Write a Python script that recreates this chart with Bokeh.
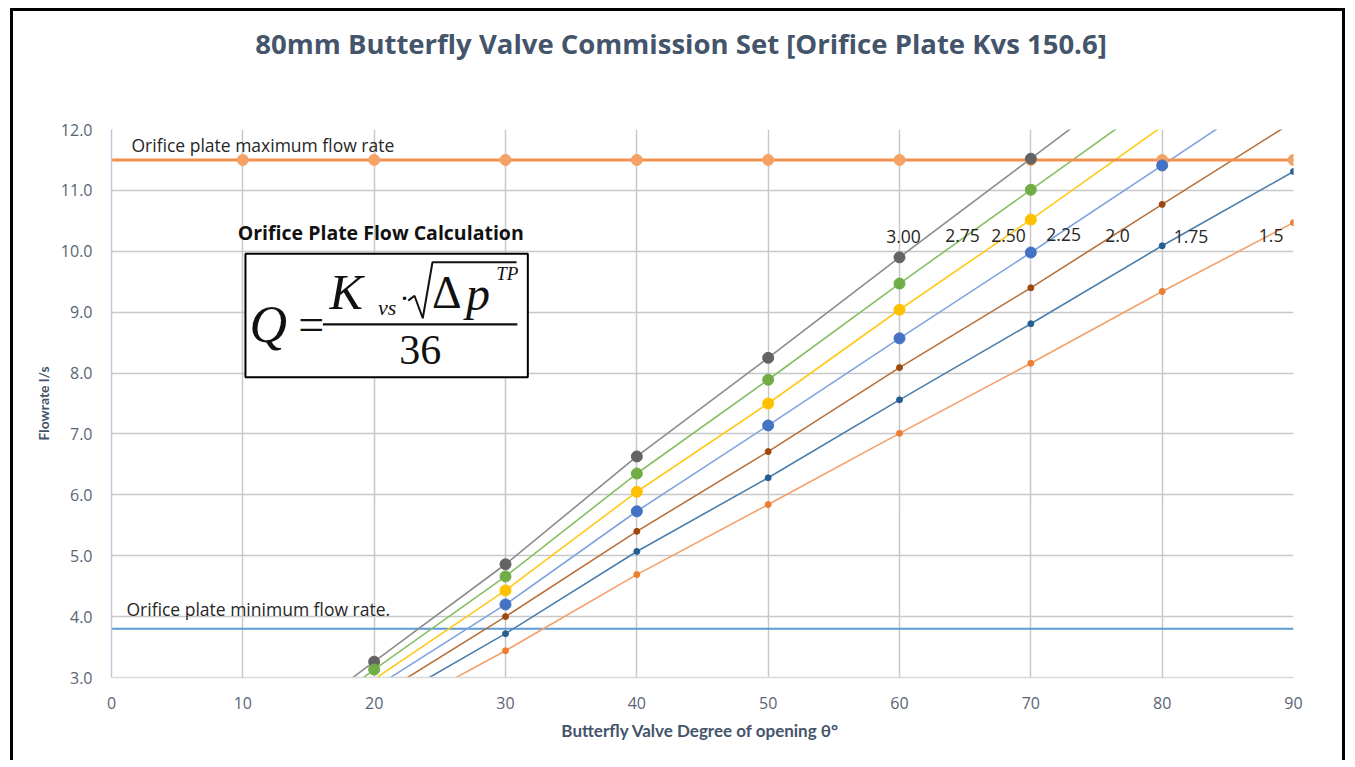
import numpy as np
from bokeh.plotting import figure
from bokeh.models import (Label, BoxAnnotation, ColumnDataSource, FixedTicker, NumeralTickFormatter,
                          Range1d, LinearAxis)
from bokeh.embed import file_html
from bokeh.resources import INLINE

# ---------------- data ----------------
title_text = "80mm Butterfly Valve Commission Set [Orifice Plate Kvs 150.6]"
x_label = "Butterfly Valve Degree of opening  θ°"
y_label = "Flowrate l/s"

degrees = [10, 20, 30, 40, 50, 60, 70, 80, 90]

dp_labels = ["3.00", "2.75", "2.50", "2.25", "2.0", "1.75", "1.5"]
q_300 = [1.66, 3.26, 4.86, 6.63, 8.25, 9.90, 11.52, 13.15, 14.8]
q_275 = [1.55, 3.13, 4.66, 6.35, 7.89, 9.47, 11.01, 12.55, 14.1]
q_250 = [1.50, 2.97, 4.43, 6.05, 7.50, 9.04, 10.52, 12.05, 13.5]
q_225 = [1.40, 2.83, 4.20, 5.73, 7.14, 8.57, 9.98, 11.41, 12.85]
q_200 = [1.30, 2.66, 4.00, 5.40, 6.71, 8.09, 9.40, 10.77, 12.13]
q_175 = [1.20, 2.48, 3.72, 5.07, 6.28, 7.56, 8.81, 10.09, 11.31]
q_150 = [1.05, 2.27, 3.44, 4.69, 5.84, 7.01, 8.16, 9.34, 10.47]

max_x = [0, 10, 20, 30, 40, 50, 60, 70, 80, 90]
max_flow = 11.5
min_x = [0, 90]
min_flow = 3.8

# label positions (data coords) for dp annotations
dp_label_x = [60.3, 64.8, 68.3, 72.5, 76.6, 82.2, 88.3]
dp_label_y = [10.24, 10.26, 10.26, 10.28, 10.26, 10.24, 10.26]

x_ticks = [0, 10, 20, 30, 40, 50, 60, 70, 80, 90]
y_ticks = [3, 4, 5, 6, 7, 8, 9, 10, 11, 12]

# ---------------- styles ----------------
series = [q_300, q_275, q_250, q_225, q_200, q_175, q_150]
line_colors = ["#8C8C8C", "#86BF62", "#FFC91A", "#7FA3E0", "#B8703A", "#4A7FAD", "#F4A06B"]
marker_colors = ["#636363", "#70AD47", "#FFC000", "#4472C4", "#9E480E", "#255E91", "#ED7D31"]
marker_sizes = [11, 11, 11, 11, 6, 6, 6]

TXT = "#262626"
AX = "#44546A"

p = figure(width=1335, height=752, output_backend="svg", toolbar_location=None,
           x_range=Range1d(0, 90), y_range=Range1d(3, 12),
           min_border_left=98, min_border_right=55, min_border_top=118, min_border_bottom=86)
p.styles = {"border-top": "3px solid #000", "border-left": "3px solid #000",
            "border-right": "3px solid #000", "margin-left": "10px", "margin-top": "8px"}

p.outline_line_color = None
p.background_fill_color = "white"
p.border_fill_color = "white"

for g in (p.xgrid, p.ygrid):
    g.grid_line_color = "#C8C8C8"
    g.grid_line_width = 1.5
p.xaxis.ticker = FixedTicker(ticks=x_ticks)
p.yaxis.ticker = FixedTicker(ticks=y_ticks)
p.yaxis.formatter = NumeralTickFormatter(format="0.0")

for ax in (p.xaxis, p.yaxis):
    ax.major_tick_line_color = None
    ax.minor_tick_line_color = None
    ax.major_label_text_font = "Open Sans"
    ax.major_label_text_font_size = "16px"
    ax.major_label_text_color = "#5A6474"
    ax.axis_label_text_font = "Lato"
    ax.axis_label_text_font_style = "bold"
    ax.axis_label_text_color = AX
p.xaxis.axis_label_text_font_size = "17px"
p.yaxis.axis_label_text_font_size = "14px"
p.yaxis.axis_line_color = "#BCCADB"
p.yaxis.axis_line_width = 1.5
p.xaxis.axis_line_color = "#D9D9D9"
p.xaxis.axis_line_width = 1.5
p.xaxis.axis_label = x_label
p.yaxis.axis_label = y_label
p.yaxis.major_label_standoff = 13
p.xaxis.major_label_standoff = 13
p.yaxis.axis_label_standoff = 6
p.xaxis.axis_label_standoff = 8

# chart title: label of a bare axis above the plot
# (trailing no-break spaces move the centred text slightly left, as in the original)
title_axis = LinearAxis(ticker=FixedTicker(ticks=[]), axis_label=title_text + "\u00a0" * 6,
                        axis_line_color=None, major_tick_line_color=None, minor_tick_line_color=None,
                        major_tick_out=0, minor_tick_out=0, major_label_standoff=0,
                        axis_label_standoff=68, axis_label_text_font="Open Sans",
                        axis_label_text_font_size="27.5px", axis_label_text_font_style="bold",
                        axis_label_text_color=AX)
p.add_layout(title_axis, "above")

# min / max flow lines
p.line(min_x, [min_flow] * len(min_x), line_color="#5B9BD5", line_width=2)

for i, q in enumerate(series):
    p.line(degrees, q, line_color=line_colors[i], line_width=1.6)

max_src = ColumnDataSource(dict(x=max_x[1:], y=[max_flow] * (len(max_x) - 1)))
p.line(max_x, [max_flow] * len(max_x), line_color="#F2914F", line_width=3)
p.scatter("x", "y", source=max_src, size=11, fill_color="#F4A266", line_color="#F4A266")

for i, q in enumerate(series):
    qa = np.array(q)
    xa = np.array(degrees)
    m = (qa >= 3.0) & (qa <= 12.0)
    p.scatter(xa[m], qa[m], size=marker_sizes[i], fill_color=marker_colors[i],
              line_color=marker_colors[i])

# annotations
p.add_layout(Label(x=1.52, y=11.74, text="Orifice plate maximum flow rate", text_font="Open Sans",
                   text_font_size="17.5px", text_color=TXT, text_baseline="middle"))
p.add_layout(Label(x=1.14, y=4.12, text="Orifice plate minimum flow rate.", text_font="Open Sans",
                   text_font_size="17.5px", text_color=TXT, text_baseline="middle"))
for lx, ly, t in zip(dp_label_x, dp_label_y, dp_labels):
    p.add_layout(Label(x=lx, y=ly, text=t, text_font="Open Sans", text_font_size="17.5px",
                       text_color=TXT, text_align="center", text_baseline="middle"))

# formula box
p.add_layout(Label(x=20.5, y=10.31, text="Orifice Plate Flow Calculation", text_font="Open Sans",
                   text_font_size="19.5px", text_font_style="bold", text_color="#111111",
                   text_align="center", text_baseline="middle"))
p.add_layout(BoxAnnotation(left=10.2, right=31.7, bottom=7.93, top=9.96, fill_color="white",
                           fill_alpha=1, line_color="black", line_alpha=1, line_width=2,
                           level="underlay"))
SERIF = "Liberation Serif"
def flabel(x, y, t, size, style="italic", align="left"):
    p.add_layout(Label(x=x, y=y, text=t, text_font=SERIF, text_font_size=size, text_font_style=style,
                       text_color="#111111", text_align=align, text_baseline="middle"))
flabel(10.5, 8.80, "Q", "52px")
flabel(15.2, 8.80, "=", "46px", "normal", "center")
flabel(16.6, 9.33, "K", "50px")
flabel(20.3, 9.07, "vs", "22px")
flabel(22.3, 9.24, "·", "30px", "normal", "center")
flabel(24.4, 9.33, "Δ", "46px", "normal")
flabel(27.0, 9.31, "p", "48px")
flabel(29.3, 9.64, "TP", "19px")
flabel(23.5, 8.38, "36", "42px", "normal", "center")
p.line([16.1, 30.9], [8.80, 8.80], line_color="#111111", line_width=2.2)
p.line([22.6, 23.07, 23.7, 24.44, 30.84], [9.19, 9.27, 8.90, 9.82, 9.82],
       line_color="#111111", line_width=2)

open("out.html", "w").write(file_html(p, INLINE))
